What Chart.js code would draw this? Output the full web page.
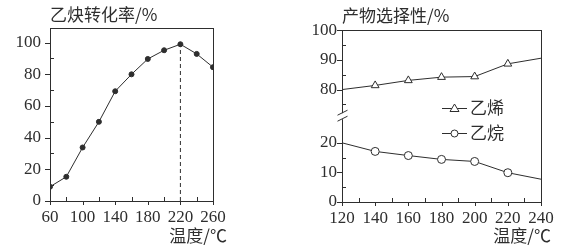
<!DOCTYPE html>
<html>
<head>
<meta charset="utf-8">
<script src="https://cdn.jsdelivr.net/npm/chart.js@4.4.1/dist/chart.umd.min.js"></script>
<style>
  body { margin: 0; background: #fff; }
  .box { position: absolute; top: 0; height: 251px; }
</style>
</head>
<body>
<div class="box" style="left:0;width:290px"><canvas id="convChart" width="290" height="251"></canvas></div>
<div class="box" style="left:290px;width:281px"><canvas id="selChart" width="281" height="251"></canvas></div>
<script>
// --- data: acetylene conversion vs temperature ---
const convTemps = [60, 80, 100, 120, 140, 160, 180, 200, 220, 240, 260];
const conversion = [9, 15.3, 33.8, 50, 69.3, 80, 89.7, 95.2, 99, 92.9, 84.5];
const convXTicks = [60, 100, 140, 180, 220, 260];
const convXMinor = [80, 120, 160, 200, 240];
const convYTicks = [0, 20, 40, 60, 80, 100];
const convYMinor = [10, 30, 50, 70, 90];

// --- data: product selectivity vs temperature ---
const selTemps = [120, 140, 160, 180, 200, 220, 240];
const ethylene = [80, 81.4, 83.1, 84.2, 84.4, 88.7, 90.6];
const ethane = [20, 17.1, 15.7, 14.4, 13.7, 9.9, 7.7];
const selXTicks = [120, 140, 160, 180, 200, 220, 240];
const selXMinor = [130, 150, 170, 190, 210, 230];
const selYTicks = [0, 10, 20, 80, 90, 100];
const selYMinor = [5, 15, 25, 75, 85, 95];

const INK = '#2e2e2e';
const SERIF = "'Liberation Serif', 'Times New Roman', 'DejaVu Serif', serif";
const CJK = "'Noto Sans CJK SC', 'Noto Sans', sans-serif";

// broken y axis: 20..80 squeezed into 18 units
const BREAK_LO = 20, BREAK_HI = 80, GAP = 18;
const toAxis = v => v <= BREAK_LO ? v : v - (BREAK_HI - BREAK_LO) + GAP;
const fromAxis = v => v <= BREAK_LO ? v : v + (BREAK_HI - BREAK_LO) - GAP;

// frame, tick marks, axis break, x title and legend
const framePlugin = {
  id: 'frame',
  afterDraw(chart, args, opts) {
    const { ctx, chartArea: a, scales: { x, y } } = chart;
    ctx.save();
    ctx.strokeStyle = INK;
    ctx.lineWidth = 1;
    ctx.strokeRect(Math.round(a.left) + 0.5, Math.round(a.top) + 0.5,
      Math.round(a.right - a.left), Math.round(a.bottom - a.top));
    ctx.beginPath();
    opts.xMajor.forEach(v => { const px = Math.round(x.getPixelForValue(v)) + 0.5; ctx.moveTo(px, a.bottom); ctx.lineTo(px, a.bottom + 4); });
    opts.xMinor.forEach(v => { const px = Math.round(x.getPixelForValue(v)) + 0.5; ctx.moveTo(px, a.bottom); ctx.lineTo(px, a.bottom - 4); });
    opts.yMajor.forEach(v => { const py = Math.round(y.getPixelForValue(v)) + 0.5; ctx.moveTo(a.left, py); ctx.lineTo(a.left - 5, py); });
    opts.yMinor.forEach(v => { const py = Math.round(y.getPixelForValue(v)) + 0.5; ctx.moveTo(a.left, py); ctx.lineTo(a.left + 4, py); });
    ctx.stroke();

    if (opts.breakAt != null) {
      const by = y.getPixelForValue(opts.breakAt);
      const bx = Math.round(a.left) + 0.5;
      ctx.fillStyle = '#fff';
      ctx.fillRect(bx - 2, by - 3, 4, 6);
      ctx.beginPath();
      ctx.moveTo(bx - 5, by - 1); ctx.lineTo(bx + 5, by - 6);
      ctx.moveTo(bx - 5, by + 5); ctx.lineTo(bx + 5, by);
      ctx.stroke();
    }

    ctx.fillStyle = INK;
    ctx.font = '17px ' + CJK;
    ctx.textAlign = 'right';
    ctx.textBaseline = 'middle';
    ctx.fillText('温度/℃', a.right + opts.xTitleShift, 236);

    (opts.legend || []).forEach(item => {
      ctx.beginPath();
      ctx.moveTo(item.x, item.y + 0.5); ctx.lineTo(item.x + 25, item.y + 0.5);
      ctx.stroke();
      const cx = item.x + 12.5;
      ctx.fillStyle = '#fff';
      ctx.beginPath();
      if (item.style === 'triangle') {
        ctx.moveTo(cx, item.y - 4); ctx.lineTo(cx + 4.5, item.y + 3.5); ctx.lineTo(cx - 4.5, item.y + 3.5); ctx.closePath();
      } else {
        ctx.arc(cx, item.y + 0.5, 3.5, 0, Math.PI * 2);
      }
      ctx.fill(); ctx.stroke();
      ctx.fillStyle = INK;
      ctx.textAlign = 'left';
      ctx.fillText(item.text, item.x + 28, item.y);
    });
    ctx.restore();
  }
};

const tickFont = { family: SERIF, size: 17 };

// left: acetylene conversion
new Chart(document.getElementById('convChart'), {
  type: 'line',
  data: {
    datasets: [
      {
        data: convTemps.map((t, i) => ({ x: t, y: conversion[i] })),
        borderColor: INK, borderWidth: 1, pointBackgroundColor: INK, pointBorderColor: INK,
        pointRadius: 2.5, tension: 0
      },
      {
        data: [{ x: 220, y: 0 }, { x: 220, y: conversion[convTemps.indexOf(220)] }],
        borderColor: INK, borderWidth: 1, borderDash: [4, 3], pointRadius: 0
      }
    ]
  },
  options: {
    responsive: false, animation: false, devicePixelRatio: 1,
    layout: { padding: { left: 0, right: 77, top: 0, bottom: 0 } },
    plugins: {
      legend: { display: false }, tooltip: { enabled: false },
      title: { display: true, text: '乙炔转化率/%', align: 'start', fullSize: false, color: INK,
               font: { family: CJK, size: 17, weight: 'normal' }, padding: { top: 4, bottom: 4 } },
      frame: { xMajor: convXTicks, xMinor: convXMinor, yMajor: convYTicks, yMinor: convYMinor, xTitleShift: 14 }
    },
    scales: {
      x: {
        type: 'linear', min: 60, max: 260,
        afterBuildTicks: s => { s.ticks = convXTicks.map(v => ({ value: v })); },
        afterFit: s => { s.height = 50; },
        grid: { display: false, drawTicks: false }, border: { display: false },
        ticks: { font: tickFont, color: INK, padding: 6, maxRotation: 0, autoSkip: false }
      },
      y: {
        min: 0, max: 109,
        afterBuildTicks: s => { s.ticks = convYTicks.map(v => ({ value: v })); },
        afterFit: s => { s.width = 50; },
        grid: { display: false, drawTicks: false }, border: { display: false },
        ticks: { font: tickFont, color: INK, padding: 9 }
      }
    }
  },
  plugins: [framePlugin]
});

// right: product selectivity (broken axis)
const markerRadius = selTemps.map((t, i) => (i === 0 || i === selTemps.length - 1) ? 0 : 4);
new Chart(document.getElementById('selChart'), {
  type: 'line',
  data: {
    datasets: [
      {
        label: '乙烯',
        data: selTemps.map((t, i) => ({ x: t, y: toAxis(ethylene[i]) })),
        borderColor: INK, borderWidth: 1, pointStyle: 'triangle', pointRadius: markerRadius.map(r => r ? 4.5 : 0),
        pointBackgroundColor: '#fff', pointBorderColor: INK, pointBorderWidth: 1
      },
      {
        label: '乙烷',
        data: selTemps.map((t, i) => ({ x: t, y: toAxis(ethane[i]) })),
        borderColor: INK, borderWidth: 1, pointStyle: 'circle', pointRadius: markerRadius,
        pointBackgroundColor: '#fff', pointBorderColor: INK, pointBorderWidth: 1
      }
    ]
  },
  options: {
    responsive: false, animation: false, devicePixelRatio: 1,
    layout: { padding: { left: 0, right: 30, top: 0, bottom: 0 } },
    plugins: {
      legend: { display: false }, tooltip: { enabled: false },
      title: { display: true, text: '产物选择性/%', align: 'start', fullSize: false, color: INK,
               font: { family: CJK, size: 17, weight: 'normal' }, padding: { top: 5, bottom: 5 } },
      frame: {
        xMajor: selXTicks, xMinor: selXMinor,
        yMajor: selYTicks.map(toAxis), yMinor: selYMinor.map(toAxis),
        breakAt: BREAK_LO + GAP * 0.5, xTitleShift: 10,
        legend: [
          { text: '乙烯', style: 'triangle', x: 152, y: 108 },
          { text: '乙烷', style: 'circle', x: 152, y: 133 }
        ]
      }
    },
    scales: {
      x: {
        type: 'linear', min: 120, max: 240,
        afterBuildTicks: s => { s.ticks = selXTicks.map(v => ({ value: v })); },
        afterFit: s => { s.height = 49; },
        grid: { display: false, drawTicks: false }, border: { display: false },
        ticks: { font: tickFont, color: INK, padding: 6, maxRotation: 0, autoSkip: false }
      },
      y: {
        min: 0, max: toAxis(100),
        afterBuildTicks: s => { s.ticks = selYTicks.map(v => ({ value: toAxis(v) })); },
        afterFit: s => { s.width = 52; },
        grid: { display: false, drawTicks: false }, border: { display: false },
        ticks: { font: tickFont, color: INK, padding: 5, callback: v => fromAxis(v) }
      }
    }
  },
  plugins: [framePlugin]
});
</script>
</body>
</html>
